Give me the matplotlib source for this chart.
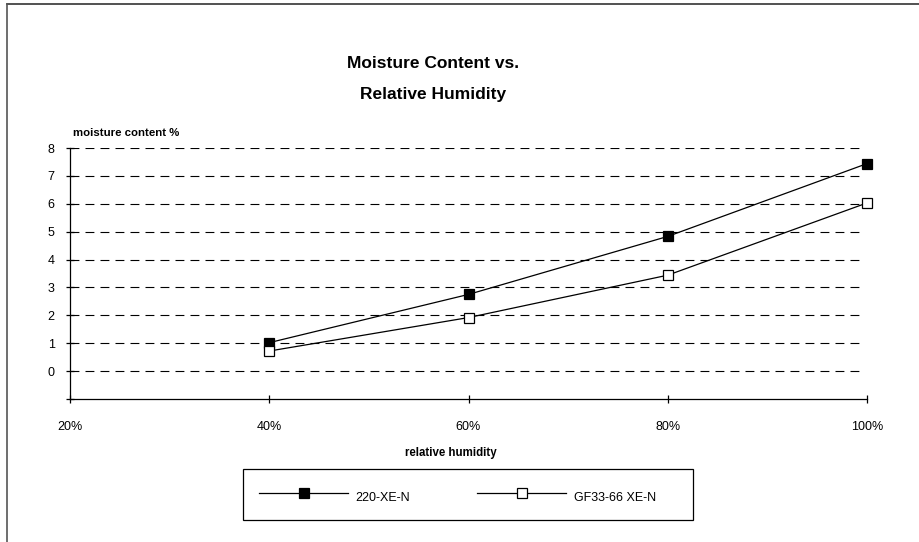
import matplotlib
matplotlib.use("Agg")
import matplotlib.pyplot as plt
from matplotlib.lines import Line2D
from matplotlib.patches import Rectangle
from matplotlib.ticker import FuncFormatter

plt.rcParams['font.family'] = ['Liberation Sans', 'DejaVu Sans']

humidity = [40, 60, 80, 100]
series_220 = [1.02, 2.75, 4.83, 7.44]
series_gf33 = [0.72, 1.92, 3.44, 6.03]
series_names = ["220-XE-N", "GF33-66 XE-N"]
x_ticks = [20, 40, 60, 80, 100]
y_ticks = [-1, 0, 1, 2, 3, 4, 5, 6, 7, 8]

W, H = 919, 542
fig = plt.figure(figsize=(W / 100, H / 100), dpi=100)
ax = fig.add_axes([70 / W, 1 - 399 / H, (867 - 70) / W, (399 - 148) / H])

styles = [dict(mfc='black', ms=7), dict(mfc='white', ms=7.5)]
for ys, name, st in zip([series_220, series_gf33], series_names, styles):
    ax.plot(humidity, ys, color='black', lw=0.9, marker='s', ms=st['ms'],
            mfc=st['mfc'], mec='black', mew=0.9, label=name, clip_on=False, zorder=3)

ax.set_xlim(20, 100)
ax.set_ylim(-1, 8)
ax.set_xticks(x_ticks)
ax.set_yticks(y_ticks)
ax.xaxis.set_major_formatter(FuncFormatter(lambda v, p: f"{int(v)}%"))
ax.yaxis.set_major_formatter(FuncFormatter(lambda v, p: "" if v < 0 else f"{int(v)}"))
ax.tick_params(axis='both', direction='inout', length=6, width=0.9, labelsize=9, colors='black')
ax.tick_params(axis='x', pad=13)
ax.tick_params(axis='y', pad=8)

for v in y_ticks:
    if v >= 0:
        ax.plot([20, 99.5], [v, v], color='black', lw=0.8, ls=(0, (8, 5.5)), zorder=1)

for s in ['top', 'right']:
    ax.spines[s].set_visible(False)
for s in ['left', 'bottom']:
    ax.spines[s].set_linewidth(0.9)

fig.text(433 / W, 1 - 63 / H, "Moisture Content vs.", ha='center', va='center',
         fontsize=12.5, fontweight='bold')
fig.text(433 / W, 1 - 95 / H, "Relative Humidity", ha='center', va='center',
         fontsize=12.5, fontweight='bold')
fig.text(73 / W, 1 - 133 / H, "moisture content %", ha='left', va='center',
         fontsize=8.2, fontweight='bold')
fig.text(451 / W, 1 - 453 / H, "relative humidity", ha='center', va='center',
         fontsize=8.3, fontweight='bold')

# Legend drawn as a framed box with the series' styles
fig.add_artist(Rectangle((243 / W, 1 - 520 / H), (693 - 243) / W, (520 - 469) / H,
                         transform=fig.transFigure, fill=False, edgecolor='black', lw=0.9))
leg_x = [(259, 348, 355), (477, 566, 574)]
for (x0, x1, xt), name, st in zip(leg_x, series_names, styles):
    fig.add_artist(Line2D([x0 / W, x1 / W], [1 - 493 / H] * 2, transform=fig.transFigure,
                          color='black', lw=0.9))
    fig.add_artist(Line2D([(x0 + x1) / 2 / W], [1 - 493 / H], transform=fig.transFigure,
                          marker='s', ms=st['ms'], mfc=st['mfc'], mec='black', mew=0.9, lw=0))
    fig.text(xt / W, 1 - 498 / H, name, ha='left', va='center', fontsize=9)

fig.add_artist(Line2D([7 / W, 1], [1 - 4 / H, 1 - 4 / H], transform=fig.transFigure,
                      color='#333333', lw=1.2))
fig.add_artist(Line2D([7 / W, 7 / W], [0, 1 - 4 / H], transform=fig.transFigure,
                      color='#555555', lw=1.2))

fig.savefig("out.png", dpi=100)
